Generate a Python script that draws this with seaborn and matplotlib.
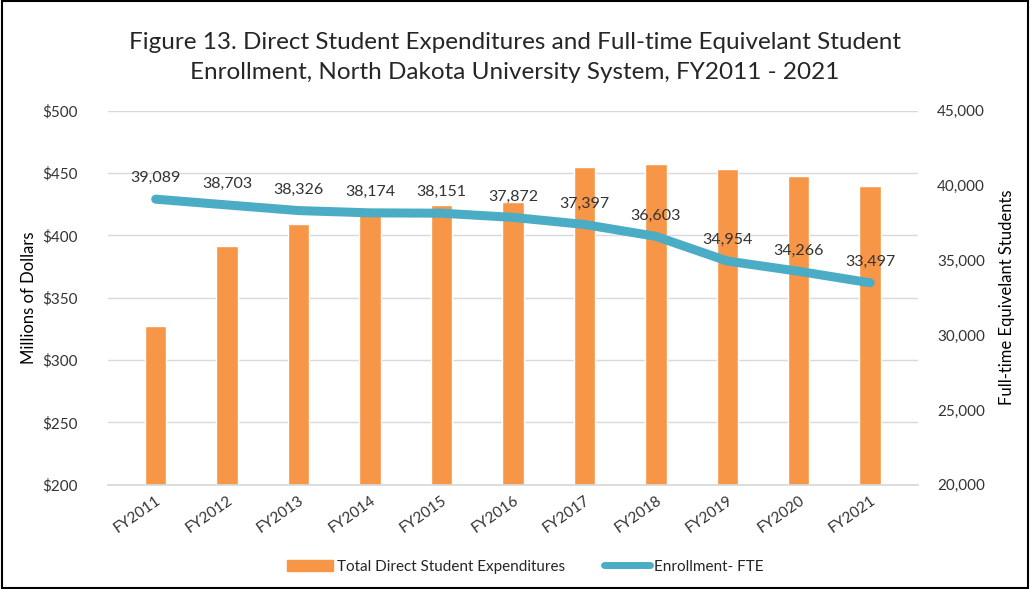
import numpy as np
import pandas as pd
import seaborn as sns
import matplotlib.pyplot as plt
from matplotlib.patches import Rectangle

years = ["FY2011", "FY2012", "FY2013", "FY2014", "FY2015", "FY2016",
         "FY2017", "FY2018", "FY2019", "FY2020", "FY2021"]
expenditures = [327.5, 391.7, 408.8, 418.0, 424.6, 426.8, 454.5, 457.3, 453.0, 447.4, 439.3]
enrollment = [39089, 38703, 38326, 38174, 38151, 37872, 37397, 36603, 34954, 34266, 33497]

bar_color = "#F79646"
line_color = "#4BACC6"

sns.set_theme(style="white")
plt.rcParams['font.family'] = ['Lato', 'DejaVu Sans']

df = pd.DataFrame({"year": years, "exp": expenditures, "fte": enrollment})

fig = plt.figure(figsize=(10.3, 5.89), dpi=100)
ax = fig.add_axes([0.105, 0.177, 0.786, 0.635])

sns.barplot(data=df, x="year", y="exp", color=bar_color, width=0.3,
            saturation=1, ax=ax, zorder=2)
ax.set_ylim(200, 500)
ax.set_yticks(np.arange(200, 501, 50))
ax.set_yticklabels([f"${v}" for v in range(200, 501, 50)])
ax.yaxis.grid(True, color="#D9D9D9", linewidth=1, zorder=0)
ax.set_axisbelow(True)
ax.set_xlabel("")
ax.set_ylabel("Millions of Dollars", fontsize=12, color="black")
for s in ["top", "left", "right"]:
    ax.spines[s].set_visible(False)
ax.spines["bottom"].set_color("#D9D9D9")
ax.tick_params(axis="y", labelsize=11, colors="#333333", length=0, pad=22)
ax.tick_params(axis="x", labelsize=11, colors="#333333", length=0, pad=6)
plt.setp(ax.get_xticklabels(), rotation=35, ha="right", rotation_mode="anchor")

ax2 = ax.twinx()
pos = np.arange(len(years))
sns.lineplot(x=pos, y=df["fte"], color=line_color, linewidth=6.5,
             solid_capstyle="round", solid_joinstyle="round", ax=ax2, zorder=3)
ax2.set_ylim(20000, 45000)
ax2.set_yticks(np.arange(20000, 45001, 5000))
ax2.set_yticklabels([f"{v:,}" for v in range(20000, 45001, 5000)])
ax2.set_ylabel("Full-time Equivelant Students", fontsize=12, color="black", labelpad=10)
for s in ["top", "left", "right", "bottom"]:
    ax2.spines[s].set_visible(False)
ax2.tick_params(axis="y", labelsize=11, colors="#333333", length=0, pad=14)
ax2.set_xlim(ax.get_xlim())

for x, v in zip(pos, enrollment):
    ax2.annotate(f"{v:,}", (x, v), xytext=(0, 15), textcoords="offset points",
                 ha="center", va="center", fontsize=11.5, color="#333333")

fig.suptitle("Figure 13. Direct Student Expenditures and Full-time Equivelant Student\n"
             "Enrollment, North Dakota University System, FY2011 - 2021",
             fontsize=17.5, y=0.945, linespacing=1.5)

handles = [Rectangle((0, 0), 1, 1, color=bar_color),
           plt.Line2D([0], [0], color=line_color, linewidth=5, solid_capstyle="round")]
fig.legend(handles, ["Total Direct Student Expenditures", "Enrollment- FTE"],
           loc="center", bbox_to_anchor=(0.51, 0.038), ncol=2, frameon=False,
           fontsize=11, handlelength=3, columnspacing=2.5, handletextpad=0.3)

fig.add_artist(Rectangle((0.002, 0.002), 0.996, 0.996, transform=fig.transFigure,
                         fill=False, edgecolor="black", linewidth=1.5))

fig.savefig("out.png", dpi=100)
